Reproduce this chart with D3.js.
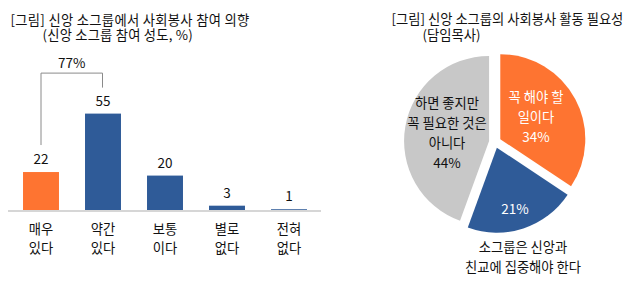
<!DOCTYPE html>
<html>
<head>
<meta charset="utf-8">
<script src="https://cdn.jsdelivr.net/npm/d3@7"></script>
<style>
  html, body { margin: 0; padding: 0; background: #fff; }
  svg { display: block; font-family: "Noto Sans CJK KR", "Noto Sans", sans-serif; }
</style>
</head>
<body>
<svg id="chart" width="638" height="284"></svg>
<script>
// Bar chart: willingness to join social service (small-group members, %)
const barCategories = [["매우", "있다"], ["약간", "있다"], ["보통", "이다"], ["별로", "없다"], ["전혀", "없다"]];
const barValues = [22, 55, 20, 3, 1];
const barTitle = ["[그림] 신앙 소그룹에서 사회봉사 참여 의향", "(신앙 소그룹 참여 성도, %)"];
const bracketLabel = "77%";

// Pie chart: need for social service activities (senior pastors)
const pieLabels = [["꼭 해야 할", "일이다"], ["소그룹은 신앙과", "친교에 집중해야 한다"], ["하면 좋지만", "꼭 필요한 것은", "아니다"]];
const pieValues = [34, 21, 44];
const pieTitle = ["[그림] 신앙 소그룹의 사회봉사 활동 필요성", "(담임목사)"];

const ORANGE = "#FE7431", BLUE = "#2F5B98", GRAY = "#C8C8C8", INK = "#111";
const FS = 13.3;

const svg = d3.select("#chart");

// ---------- bar chart ----------
const keys = barCategories.map((d, i) => i);
const x = d3.scaleBand().domain(keys).range([10, 320]).paddingInner(0.42).paddingOuter(0.21);
const y = d3.scaleLinear().domain([0, 55]).range([211, 113.6]);

const left = svg.append("g");

left.selectAll("text.title").data(barTitle).join("text")
  .attr("x", (d, i) => i === 0 ? 10.5 : 42.5)
  .attr("y", (d, i) => i === 0 ? 24.5 : 40.3)
  .attr("font-size", FS).attr("fill", INK)
  .attr("letter-spacing", (d, i) => i === 0 ? 0.3 : 0.2)
  .text(d => d);

left.selectAll("rect.bar").data(barValues).join("rect")
  .attr("class", "bar")
  .attr("x", (d, i) => x(i))
  .attr("width", x.bandwidth())
  .attr("y", d => y(d))
  .attr("height", d => y(0) - y(d))
  .attr("fill", (d, i) => i === 0 ? ORANGE : BLUE);

// baseline
left.append("line")
  .attr("x1", 8).attr("x2", 321)
  .attr("y1", y(0)).attr("y2", y(0))
  .attr("stroke", "#d6d6d6").attr("stroke-width", 2);

left.selectAll("text.val").data(barValues).join("text")
  .attr("class", "val")
  .attr("x", (d, i) => x(i) + x.bandwidth() / 2)
  .attr("y", d => y(d) - 8)
  .attr("text-anchor", "middle")
  .attr("font-size", 13.5).attr("fill", INK)
  .text(d => d);

const cat = left.selectAll("text.cat").data(barCategories).join("text")
  .attr("class", "cat")
  .attr("x", (d, i) => x(i) + x.bandwidth() / 2)
  .attr("y", 233.5)
  .attr("text-anchor", "middle")
  .attr("font-size", FS).attr("fill", INK);
cat.selectAll("tspan").data(d => d).join("tspan")
  .attr("x", function () { return d3.select(this.parentNode).attr("x"); })
  .attr("dy", (d, i) => i === 0 ? 0 : 19.5)
  .text(d => d);

// bracket joining the two "있다" bars
const bx0 = x(0) + x.bandwidth() / 2, bx1 = x(1) + x.bandwidth() / 2 - 0.5;
const bTop = y(55) - 40.5;
left.append("path")
  .attr("d", `M${bx0},${y(barValues[0]) - 27}V${bTop}H${bx1}V${y(barValues[1]) - 26}`)
  .attr("fill", "none").attr("stroke", "#8a8a8a").attr("stroke-width", 1);
left.append("text")
  .attr("x", (bx0 + bx1) / 2).attr("y", bTop - 4.7)
  .attr("text-anchor", "middle").attr("font-size", 13.5).attr("fill", INK)
  .text(bracketLabel);

// ---------- pie chart ----------
const right = svg.append("g");
right.selectAll("text.title").data(pieTitle).join("text")
  .attr("x", (d, i) => i === 0 ? 391.5 : 422.5)
  .attr("y", (d, i) => i === 0 ? 24.3 : 40.3)
  .attr("font-size", FS).attr("fill", INK)
  .text(d => d);

const cx = 495, cy = 142, R = 85, EXPLODE = 6;
const pie = d3.pie().sort(null).startAngle(0).endAngle(2 * Math.PI);
const arcs = pie(pieValues);
const arc = d3.arc().innerRadius(0).outerRadius(R);
const colors = [ORANGE, BLUE, GRAY];

const pg = right.append("g").attr("transform", `translate(${cx},${cy})`);
const slice = pg.selectAll("g.slice").data(arcs).join("g")
  .attr("class", "slice")
  .attr("transform", d => {
    const a = (d.startAngle + d.endAngle) / 2;
    return `translate(${EXPLODE * Math.sin(a)},${-EXPLODE * Math.cos(a)})`;
  });
slice.append("path").attr("d", arc).attr("fill", (d, i) => colors[i]);

// label blocks: [center x, first line baseline] relative to the pie centre
const labelAnchor = [[41, -39.8], [20, 72], [-48, -33.8]];
const labelFill = ["#fff", "#fff", INK];

arcs.forEach((d, i) => {
  const lines = i === 1 ? [] : pieLabels[i].slice();
  lines.push(pieValues[i] + "%");
  const t = pg.append("text")
    .attr("x", labelAnchor[i][0]).attr("y", labelAnchor[i][1])
    .attr("text-anchor", "middle")
    .attr("font-size", FS)
    .attr("fill", labelFill[i]);
  t.selectAll("tspan").data(lines).join("tspan")
    .attr("x", labelAnchor[i][0])
    .attr("dy", (s, k) => k === 0 ? 0 : 20)
    .attr("font-size", (s, k) => k === lines.length - 1 ? 13.5 : FS)
    .text(s => s);
});

// caption for the blue slice, below the pie
const cap = pg.append("text")
  .attr("x", 28).attr("y", 109.7)
  .attr("text-anchor", "middle").attr("font-size", FS).attr("fill", INK);
cap.selectAll("tspan").data(pieLabels[1]).join("tspan")
  .attr("x", 28)
  .attr("dy", (s, k) => k === 0 ? 0 : 20.5)
  .text(s => s);
</script>
</body>
</html>
